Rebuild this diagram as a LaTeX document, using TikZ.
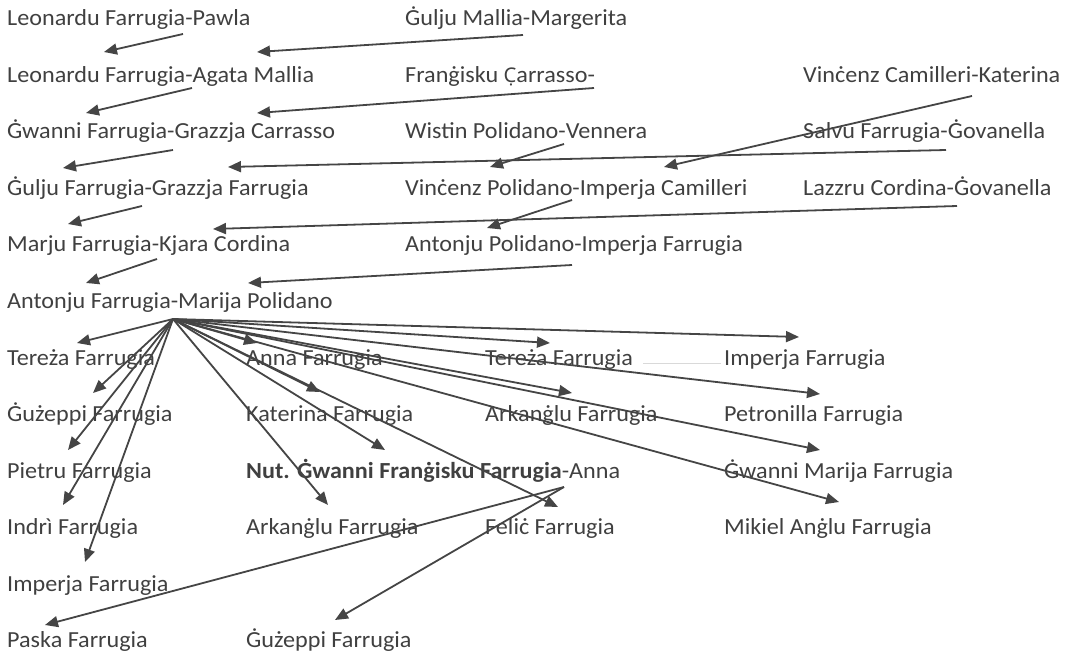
\documentclass[tikz,border=0pt]{standalone}
\usepackage{fontspec}
\setmainfont{Carlito}[FakeStretch=1.05]
\newfontfamily\markfont{Noto Sans}[Scale=0.88]
\usetikzlibrary{arrows.meta}
\definecolor{ink}{HTML}{404040}
\definecolor{wire}{HTML}{454545}
\begin{document}
\begin{tikzpicture}[x=1pt,y=-1pt,
  lbl/.style={anchor=base west,inner sep=0pt,text=ink,font=\fontsize{23}{27}\selectfont},
  con/.style={draw=wire,line width=1.8pt,-{Triangle[length=13pt,width=11pt]}},
  smudge/.style={draw=gray!30,line width=0.8pt}]
\useasboundingbox (0,0) rectangle (1074,655);
% ---- upper generations
\node[lbl] (r1a) at (7,26) {Leonardu Farrugia-Pawla};
\node[lbl] (r1b) at (405,26) {Ġulju Mallia-Margerita};
\node[lbl] (r2a) at (7,82.5) {Leonardu Farrugia-Agata Mallia};
\node[lbl] (r2b) at (405,82.5) {Franġisku {\markfont C̣}arrasso-};
\node[lbl] (r2c) at (803,82.5) {Vinċenz Camilleri-Katerina};
\node[lbl] (r3a) at (7,139) {Ġwanni Farrugia-Grazzja Carrasso};
\node[lbl] (r3b) at (405,139) {Wistin Polidano-Vennera};
\node[lbl] (r3c) at (803,139) {Salvu Farrugia-Ġovanella};
\node[lbl] (r4a) at (7,195.5) {Ġulju Farrugia-Grazzja Farrugia};
\node[lbl] (r4b) at (405,195.5) {Vinċenz Polidano-Imperja Camilleri};
\node[lbl] (r4c) at (803,195.5) {Lazzru Cordina-Ġovanella};
\node[lbl] (r5a) at (7,252) {Marju Farrugia-Kjara Cordina};
\node[lbl] (r5b) at (405,252) {Antonju Polidano-Imperja Farrugia};
\node[lbl] (r6a) at (7,308.5) {Antonju Farrugia-Marija Polidano};
% ---- children
\node[lbl] (k1) at (7,365) {Tereża Farrugia};
\node[lbl] (k2) at (7,421.5) {Ġużeppi Farrugia};
\node[lbl] (k3) at (7,478) {Pietru Farrugia};
\node[lbl] (k4) at (7,534.5) {Indrì Farrugia};
\node[lbl] (k5) at (7,591) {Imperja Farrugia};
\node[lbl] (k6) at (246,365) {Anna Farrugia};
\node[lbl] (k7) at (246,421.5) {Katerina Farrugia};
\node[lbl] (k8) at (246,478) {\textbf{Nut. Ġwanni Franġisku Farrugia}-Anna};
\node[lbl] (k9) at (246,534.5) {Arkanġlu Farrugia};
\node[lbl] (k10) at (485,365) {Tereża Farrugia};
\node[lbl] (k11) at (485,421.5) {Arkanġlu Farrugia};
\node[lbl] (k12) at (485,534.5) {Feliċ Farrugia};
\node[lbl] (k13) at (724,365) {Imperja Farrugia};
\node[lbl] (k14) at (724,421.5) {Petronilla Farrugia};
\node[lbl] (k15) at (724,478) {Ġwanni Marija Farrugia};
\node[lbl] (k16) at (724,534.5) {Mikiel Anġlu Farrugia};
% ---- grandchildren
\node[lbl] (g1) at (7,647.5) {Paska Farrugia};
\node[lbl] (g2) at (246,647.5) {Ġużeppi Farrugia};
% ---- connector ends
\coordinate (s1) at (183,34);  \coordinate (t1) at (104,52);
\coordinate (s2) at (523,35);  \coordinate (t2) at (257,52);
\coordinate (s3) at (192,88);  \coordinate (t3) at (86,113);
\coordinate (s4) at (594,88);  \coordinate (t4) at (257,113);
\coordinate (s5) at (972,96);  \coordinate (t5) at (664,167);
\coordinate (s6) at (173,150); \coordinate (t6) at (63,168);
\coordinate (s7) at (564,144); \coordinate (t7) at (490,167);
\coordinate (s8) at (946,150); \coordinate (t8) at (228,167);
\coordinate (s9) at (142,206); \coordinate (t9) at (68,224);
\coordinate (s10) at (572,200); \coordinate (t10) at (487,228);
\coordinate (s11) at (957,206); \coordinate (t11) at (213,229);
\coordinate (s12) at (157,259); \coordinate (t12) at (86,283);
\coordinate (s13) at (572,265); \coordinate (t13) at (248,283);
\coordinate (fan) at (173,319);
\coordinate (e1) at (77,343);
\coordinate (e2) at (93,393);
\coordinate (e3) at (68,450);
\coordinate (e4) at (63,505);
\coordinate (e5) at (85,562);
\coordinate (e6) at (257,343);
\coordinate (e7) at (320,392);
\coordinate (e8) at (385,450);
\coordinate (e9) at (328,505);
\coordinate (e10) at (550,343);
\coordinate (e11) at (572,393);
\coordinate (e12) at (558,507);
\coordinate (e13) at (799,337);
\coordinate (e14) at (820,394);
\coordinate (e15) at (820,450);
\coordinate (e16) at (839,502);
\coordinate (nut) at (564,487);
\coordinate (f1) at (45,625);
\coordinate (f2) at (335,620);
\coordinate (m1) at (643,363);
\coordinate (m2) at (721,363);
% ---- connectors
\foreach \i in {1,...,13} \draw[con] (s\i) -- (t\i);
\foreach \i in {1,...,16} \draw[con] (fan) -- (e\i);
\draw[con] (nut) -- (f1);
\draw[con] (nut) -- (f2);
\draw[smudge] (m1) -- (m2);
\end{tikzpicture}
\end{document}
